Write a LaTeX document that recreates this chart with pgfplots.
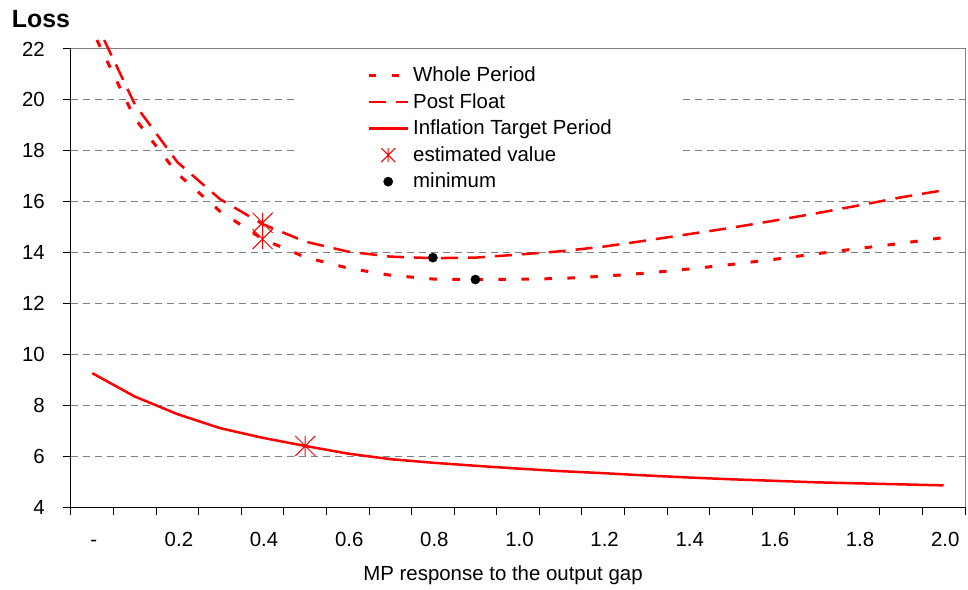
\documentclass[border=0pt]{standalone}
\usepackage{pgfplots}
\pgfplotsset{compat=1.18}
\usepackage{fontspec}
\setmainfont{Liberation Sans}

% Excel-like star: vertical bar plus an X
\pgfdeclareplotmark{xstar}{%
  \pgfpathmoveto{\pgfqpoint{0pt}{\pgfplotmarksize}}%
  \pgfpathlineto{\pgfqpoint{0pt}{-\pgfplotmarksize}}%
  \pgfpathmoveto{\pgfqpoint{-\pgfplotmarksize}{-\pgfplotmarksize}}%
  \pgfpathlineto{\pgfqpoint{\pgfplotmarksize}{\pgfplotmarksize}}%
  \pgfpathmoveto{\pgfqpoint{-\pgfplotmarksize}{\pgfplotmarksize}}%
  \pgfpathlineto{\pgfqpoint{\pgfplotmarksize}{-\pgfplotmarksize}}%
  \pgfusepathqstroke}

\newcommand{\lbl}{\fontsize{20.5}{24}\selectfont}

\begin{document}
\begin{tikzpicture}
\useasboundingbox (-71bp,-83bp) rectangle (897bp,507bp);
\begin{axis}[
    scale only axis,
    width=894bp, height=458bp,
    xmin=-0.05, xmax=2.05,
    ymin=4, ymax=22,
    clip=false,
    axis x line*=bottom, axis y line*=left,
    axis line style={black, line width=1bp},
    tick align=outside,
    major tick length=8bp,
    tick style={black, line width=1bp},
    xtick={-0.05,0.05,0.15,0.25,0.35,0.45,0.55,0.65,0.75,0.85,0.95,1.05,1.15,1.25,1.35,1.45,1.55,1.65,1.75,1.85,1.95,2.05},
    xticklabels={},
    extra x ticks={0,0.2,0.4,0.6,0.8,1.0,1.2,1.4,1.6,1.8,2.0},
    extra x tick labels={-,0.2,0.4,0.6,0.8,1.0,1.2,1.4,1.6,1.8,2.0},
    extra x tick style={major tick length=0pt,
        tick label style={font=\lbl, inner sep=0pt, text height=15bp, text depth=0pt,
            anchor=north, xshift=1.5bp, yshift=-24bp}},
    ytick={4,6,8,10,12,14,16,18,20,22},
    yticklabels={4,6,8,10,12,14,16,18,20,22},
    yticklabel style={font=\lbl, inner sep=0pt, anchor=east, xshift=-18bp},
    ymajorgrids,
    grid style={gray, line width=1bp, dash pattern=on 7bp off 5bp},
    legend style={at={(0.2528,0.9815)}, anchor=north west, draw=none, fill=white,
        inner xsep=70bp, inner ysep=8bp, font=\lbl, row sep=6.5bp, column sep=4bp,
        nodes={inner sep=0pt, text height=16bp, text depth=4bp}},
    legend cell align=left,
    legend image code/.code={\draw[mark repeat=2,mark phase=2,#1]
        plot coordinates {(0bp,0bp) (19.5bp,0bp) (39bp,0bp)};},
]
\draw[gray, line width=1bp] (rel axis cs:0,1) -- (rel axis cs:1,1) -- (rel axis cs:1,0);

\addplot[red, line width=3bp, dash pattern=on 7.5bp off 15.5bp] coordinates {
(0.011,22.35) (0.1,19.27) (0.2,17.1) (0.3,15.62) (0.4,14.53) (0.5,13.82)
(0.6,13.39) (0.7,13.11) (0.8,12.96) (0.9,12.94) (1.0,12.95) (1.1,12.98)
(1.2,13.07) (1.3,13.19) (1.4,13.35) (1.5,13.53) (1.6,13.73) (1.7,13.95)
(1.8,14.16) (1.9,14.36) (2.0,14.59)
};
\addlegendentry{Whole Period}

\addplot[red, line width=2.5bp, dash pattern=on 17bp off 10bp] coordinates {
(0.028,22.35) (0.1,19.82) (0.2,17.55) (0.3,16.1) (0.4,15.12) (0.5,14.43)
(0.6,14.04) (0.7,13.84) (0.8,13.78) (0.9,13.80) (1.0,13.92) (1.1,14.05)
(1.2,14.23) (1.3,14.47) (1.4,14.72) (1.5,14.97) (1.6,15.25) (1.7,15.54)
(1.8,15.85) (1.9,16.17) (2.0,16.45)
};
\addlegendentry{Post Float}

\addplot[red, line width=2.5bp] coordinates {
(0,9.26) (0.1,8.34) (0.2,7.65) (0.3,7.10) (0.4,6.72) (0.5,6.40)
(0.6,6.10) (0.7,5.88) (0.8,5.74) (0.9,5.62) (1.0,5.51) (1.1,5.41)
(1.2,5.33) (1.3,5.24) (1.4,5.16) (1.5,5.09) (1.6,5.03) (1.7,4.97)
(1.8,4.93) (1.9,4.89) (2.0,4.85)
};
\addlegendentry{Inflation Target Period}

\addplot[only marks, red, mark=xstar, mark size=10bp, mark options={line width=1bp},
    legend image post style={mark size=7bp}] coordinates {
(0.4,15.17) (0.4,14.53) (0.5,6.40)
};
\addlegendentry{estimated value}

\addplot[only marks, black, mark=*, mark size=4.6bp] coordinates {
(0.8,13.80) (0.9,12.94)
};
\addlegendentry{minimum}
\end{axis}
\node[anchor=base west, inner sep=0pt, font=\fontsize{25}{30}\selectfont\bfseries]
    at (-59.3bp,479.7bp) {Loss};
\node[anchor=base, inner sep=0pt, font=\lbl] at (432bp,-73bp) {MP response to the output gap};
\end{tikzpicture}
\end{document}
